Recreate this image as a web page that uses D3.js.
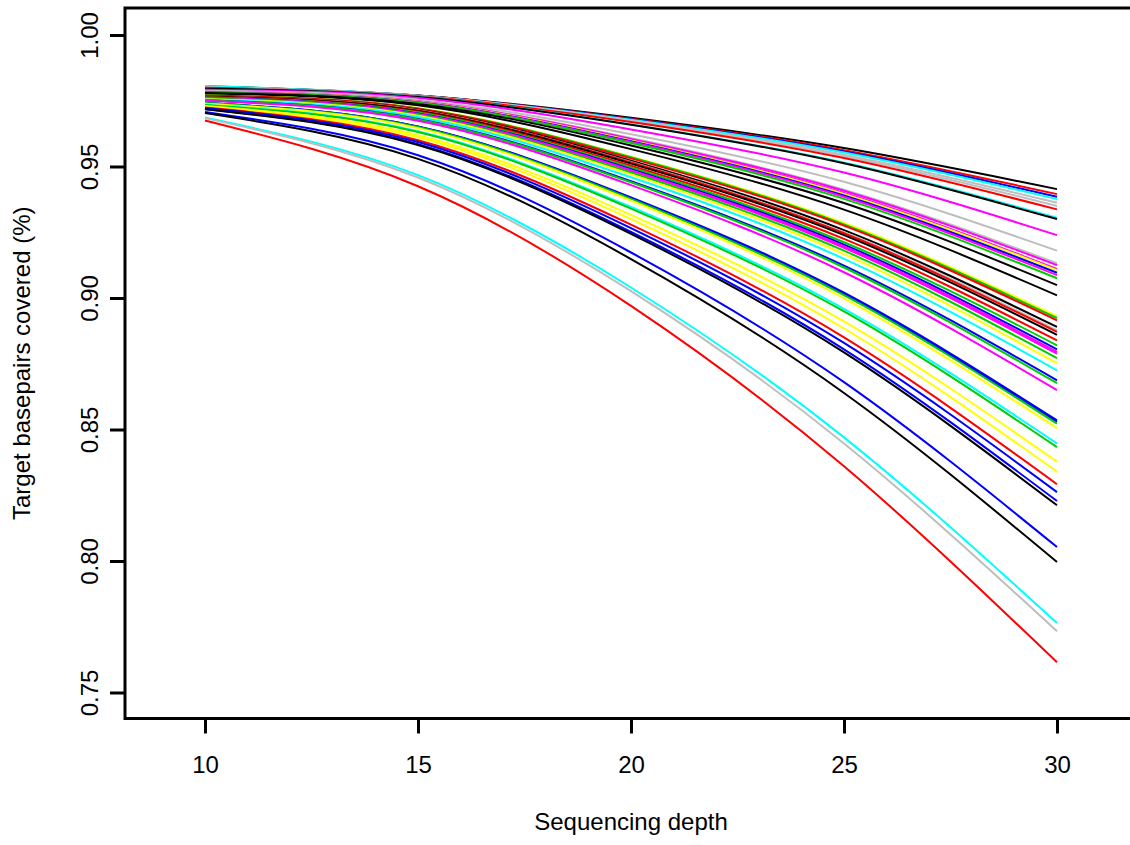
<!DOCTYPE html>
<html>
<head>
<meta charset="utf-8">
<script src="https://cdn.jsdelivr.net/npm/d3@7"></script>
<style>
  html, body { margin: 0; background: #ffffff; }
  svg { display: block; font-family: "Liberation Sans", Arial, Helvetica, sans-serif; }
</style>
</head>
<body>
<svg id="chart" width="1130" height="845"></svg>
<script>
// Sequencing depths at which coverage was evaluated
const depths = [10, 15, 20, 25, 30];
const xTicks = [10, 15, 20, 25, 30];
const yTicks = [0.75, 0.80, 0.85, 0.90, 0.95, 1.00];

// Base R palette names used for the samples
const rPalette = {
  black: "#000000", red: "#FF0000", green3: "#00CD00", blue: "#0000FF",
  cyan: "#00FFFF", magenta: "#FF00FF", yellow: "#FFFF00", gray: "#BEBEBE"
};

// One colour per sample
const sampleColors = [
  "black", "red", "blue", "cyan", "gray", "gray", "red", "cyan", "black", "magenta",
  "gray", "gray", "magenta", "magenta", "yellow", "blue", "magenta", "green3", "black", "black",
  "yellow", "green3", "red", "black", "gray", "red", "black", "red", "green3", "blue",
  "magenta", "magenta", "green3", "yellow", "cyan", "blue", "green3", "magenta", "blue", "blue",
  "green3", "yellow", "cyan", "green3", "yellow", "yellow", "red", "blue", "blue", "black",
  "blue", "black", "cyan", "gray", "red"
];

// Fraction of target basepairs covered, per sample, at each depth
const coverage = [
  [0.9805, 0.9770, 0.9685, 0.9570, 0.9414],
  [0.9804, 0.9770, 0.9682, 0.9562, 0.9395],
  [0.9803, 0.9769, 0.9680, 0.9557, 0.9385],
  [0.9806, 0.9769, 0.9678, 0.9553, 0.9376],
  [0.9801, 0.9768, 0.9675, 0.9545, 0.9362],
  [0.9800, 0.9768, 0.9672, 0.9539, 0.9350],
  [0.9799, 0.9767, 0.9669, 0.9532, 0.9337],
  [0.9797, 0.9765, 0.9660, 0.9515, 0.9305],
  [0.9797, 0.9764, 0.9659, 0.9512, 0.9300],
  [0.9792, 0.9760, 0.9641, 0.9477, 0.9239],
  [0.9788, 0.9754, 0.9623, 0.9442, 0.9180],
  [0.9785, 0.9749, 0.9608, 0.9412, 0.9132],
  [0.9784, 0.9748, 0.9605, 0.9408, 0.9125],
  [0.9783, 0.9746, 0.9600, 0.9399, 0.9110],
  [0.9783, 0.9746, 0.9599, 0.9396, 0.9106],
  [0.9782, 0.9744, 0.9596, 0.9390, 0.9096],
  [0.9781, 0.9743, 0.9593, 0.9385, 0.9087],
  [0.9781, 0.9742, 0.9589, 0.9377, 0.9075],
  [0.9779, 0.9738, 0.9580, 0.9361, 0.9049],
  [0.9776, 0.9733, 0.9566, 0.9336, 0.9010],
  [0.9770, 0.9722, 0.9537, 0.9285, 0.8931],
  [0.9770, 0.9721, 0.9535, 0.9280, 0.8924],
  [0.9769, 0.9720, 0.9531, 0.9275, 0.8915],
  [0.9767, 0.9716, 0.9522, 0.9258, 0.8890],
  [0.9766, 0.9714, 0.9517, 0.9250, 0.8877],
  [0.9766, 0.9713, 0.9515, 0.9246, 0.8871],
  [0.9765, 0.9711, 0.9511, 0.9239, 0.8860],
  [0.9763, 0.9708, 0.9503, 0.9225, 0.8839],
  [0.9762, 0.9705, 0.9496, 0.9212, 0.8820],
  [0.9761, 0.9702, 0.9490, 0.9203, 0.8805],
  [0.9760, 0.9700, 0.9486, 0.9196, 0.8795],
  [0.9760, 0.9699, 0.9484, 0.9191, 0.8788],
  [0.9759, 0.9696, 0.9477, 0.9180, 0.8771],
  [0.9757, 0.9693, 0.9470, 0.9167, 0.8752],
  [0.9755, 0.9688, 0.9459, 0.9149, 0.8725],
  [0.9752, 0.9681, 0.9444, 0.9123, 0.8687],
  [0.9752, 0.9679, 0.9440, 0.9116, 0.8676],
  [0.9750, 0.9674, 0.9429, 0.9098, 0.8650],
  [0.9741, 0.9652, 0.9382, 0.9020, 0.8535],
  [0.9741, 0.9651, 0.9380, 0.9015, 0.8529],
  [0.9741, 0.9650, 0.9377, 0.9011, 0.8522],
  [0.9739, 0.9646, 0.9370, 0.8999, 0.8505],
  [0.9735, 0.9634, 0.9346, 0.8959, 0.8447],
  [0.9734, 0.9631, 0.9340, 0.8949, 0.8433],
  [0.9730, 0.9619, 0.9316, 0.8911, 0.8378],
  [0.9727, 0.9611, 0.9300, 0.8884, 0.8340],
  [0.9724, 0.9600, 0.9279, 0.8850, 0.8292],
  [0.9722, 0.9593, 0.9266, 0.8829, 0.8262],
  [0.9719, 0.9585, 0.9251, 0.8805, 0.8228],
  [0.9718, 0.9582, 0.9244, 0.8793, 0.8212],
  [0.9707, 0.9543, 0.9173, 0.8680, 0.8053],
  [0.9703, 0.9529, 0.9148, 0.8639, 0.7996],
  [0.9686, 0.9467, 0.9040, 0.8470, 0.7764],
  [0.9684, 0.9458, 0.9026, 0.8447, 0.7733],
  [0.9675, 0.9425, 0.8970, 0.8360, 0.7615]
];

const svg = d3.select("#chart");

// Plot region (box) and scales
const box = { left: 125, top: 8, right: 1137, bottom: 718.5 };
const x = d3.scaleLinear().domain([10, 30]).range([205, 1057]);
const y = d3.scaleLinear().domain([0.75, 1.00]).range([692.5, 35]);

const line = d3.line()
  .x((d, i) => x(depths[i]))
  .y(d => y(d))
  .curve(d3.curveNatural);

// Sample curves
svg.append("g")
  .selectAll("path")
  .data(coverage)
  .join("path")
  .attr("d", line)
  .attr("fill", "none")
  .attr("stroke", (d, i) => rPalette[sampleColors[i]])
  .attr("stroke-width", 2);

// Bottom axis
const xAxis = svg.append("g")
  .attr("transform", `translate(0,${box.bottom})`)
  .call(d3.axisBottom(x).tickValues(xTicks).tickFormat(d3.format("d"))
    .tickSize(15).tickSizeOuter(0).tickPadding(22));
xAxis.select(".domain").remove();
xAxis.selectAll(".tick line").attr("stroke-width", 3);
xAxis.selectAll(".tick text")
  .attr("font-size", 24).attr("font-family", null).attr("fill", "#000");

// Left axis, labels parallel to the axis
const yAxis = svg.append("g")
  .attr("transform", `translate(${box.left},0)`)
  .call(d3.axisLeft(y).tickValues(yTicks).tickFormat(d3.format(".2f"))
    .tickSize(15).tickSizeOuter(0));
yAxis.select(".domain").remove();
yAxis.selectAll(".tick line").attr("stroke-width", 3);
yAxis.selectAll(".tick text")
  .attr("font-size", 24).attr("font-family", null).attr("fill", "#000")
  .attr("x", 0).attr("y", -27).attr("dy", null)
  .attr("text-anchor", "middle")
  .attr("transform", "rotate(-90)");

// Frame
svg.append("rect")
  .attr("x", box.left).attr("y", box.top)
  .attr("width", box.right - box.left).attr("height", box.bottom - box.top)
  .attr("fill", "none").attr("stroke", "#000").attr("stroke-width", 3);

// Axis titles
svg.append("text")
  .attr("x", 631).attr("y", 830)
  .attr("text-anchor", "middle").attr("font-size", 24)
  .text("Sequencing depth");

svg.append("text")
  .attr("transform", `translate(30,${(box.top + box.bottom) / 2}) rotate(-90)`)
  .attr("text-anchor", "middle").attr("font-size", 24)
  .text("Target basepairs covered (%)");
</script>
</body>
</html>
